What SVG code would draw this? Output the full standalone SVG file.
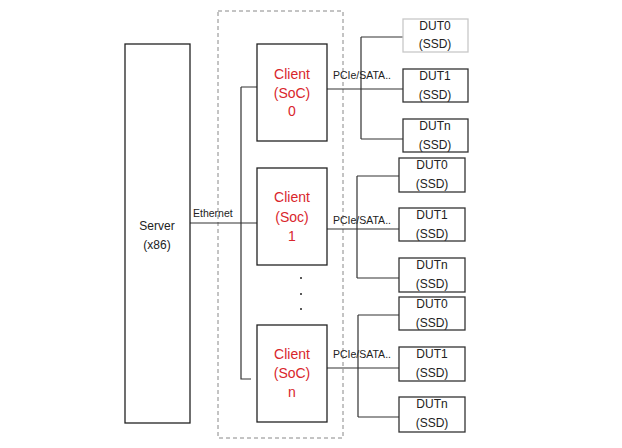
<svg xmlns="http://www.w3.org/2000/svg" width="622" height="448" viewBox="0 0 622 448">
<style>
.box{fill:#fff;stroke:#222;stroke-width:1.3}
.dut{fill:#fff;stroke:#333;stroke-width:1.3}
.ln{fill:none;stroke:#333;stroke-width:1.2}
.t{font-family:"Liberation Sans",Arial,sans-serif;font-size:12px;fill:#222;text-anchor:middle}
.c{font-family:"Liberation Sans",Arial,sans-serif;font-size:14px;fill:#d9262c;text-anchor:middle}
.s{font-family:"Liberation Sans",Arial,sans-serif;font-size:10.5px;fill:#222}
</style>
<rect width="622" height="448" fill="#fff"/>
<rect id="group" x="218" y="11" width="125" height="427" fill="none" stroke="#888" stroke-width="1" stroke-dasharray="4,3"/>
<g id="connectors">
<path class="ln" d="M190,223H257M241,87H257M241,87V379H251"/>
<path class="ln" d="M327,89H403M361,37V139M361,37H403M361,139H403"/>
<path class="ln" d="M327,229H399M357,176V278M357,176H399M357,278H399"/>
<path class="ln" d="M327,368H399M358,315V417M358,315H399M358,417H399"/>
<text class="s" x="193" y="217" font-size="11">Ethernet</text>
<text class="s" x="333" y="79">PCIe/SATA..</text>
<text class="s" x="333" y="224">PCIe/SATA..</text>
<text class="s" x="333" y="358">PCIe/SATA..</text>
</g>
<g id="server"><rect class="box" x="125" y="44" width="65" height="379"/>
<text class="t" x="157" y="230" font-size="13.5">Server</text><text class="t" x="157" y="249" font-size="13.5">(x86)</text></g>
<g id="client0"><rect class="box" x="257" y="44" width="70" height="97"/>
<text class="c" x="292" y="79">Client</text><text class="c" x="292" y="98">(SoC)</text><text class="c" x="292" y="116">0</text></g>
<g id="client1"><rect class="box" x="257" y="168" width="70" height="97"/>
<text class="c" x="292" y="202">Client</text><text class="c" x="292" y="222">(Soc)</text><text class="c" x="292" y="241">1</text></g>
<g id="clientn"><rect class="box" x="257" y="325" width="70" height="97"/>
<text class="c" x="292" y="359">Client</text><text class="c" x="292" y="378">(SoC)</text><text class="c" x="292" y="397">n</text></g>
<g id="dots" fill="#222"><circle cx="301" cy="278" r="1"/><circle cx="301" cy="294" r="1"/><circle cx="301" cy="309" r="1"/></g>
<g id="dut0a"><rect class="dut" x="403" y="19" width="65" height="33" style="stroke:#c8c8c8"/><text class="t" x="435" y="30">DUT0</text><text class="t" x="435" y="48">(SSD)</text></g>
<g id="dut1a"><rect class="dut" x="403" y="69" width="65" height="33"/><text class="t" x="435" y="80">DUT1</text><text class="t" x="435" y="99">(SSD)</text></g>
<g id="dutna"><rect class="dut" x="403" y="119" width="65" height="33"/><text class="t" x="435" y="130">DUTn</text><text class="t" x="435" y="149">(SSD)</text></g>
<g id="dut0b"><rect class="dut" x="399" y="158" width="66" height="34"/><text class="t" x="432" y="169">DUT0</text><text class="t" x="432" y="188">(SSD)</text></g>
<g id="dut1b"><rect class="dut" x="399" y="208" width="66" height="33"/><text class="t" x="432" y="219">DUT1</text><text class="t" x="432" y="238">(SSD)</text></g>
<g id="dutnb"><rect class="dut" x="399" y="258" width="66" height="34"/><text class="t" x="432" y="269">DUTn</text><text class="t" x="432" y="288">(SSD)</text></g>
<g id="dut0c"><rect class="dut" x="399" y="297" width="66" height="33"/><text class="t" x="432" y="308">DUT0</text><text class="t" x="432" y="327">(SSD)</text></g>
<g id="dut1c"><rect class="dut" x="399" y="347" width="66" height="34"/><text class="t" x="432" y="358">DUT1</text><text class="t" x="432" y="377">(SSD)</text></g>
<g id="dutnc"><rect class="dut" x="399" y="397" width="66" height="35"/><text class="t" x="432" y="408">DUTn</text><text class="t" x="432" y="427">(SSD)</text></g>
</svg>
